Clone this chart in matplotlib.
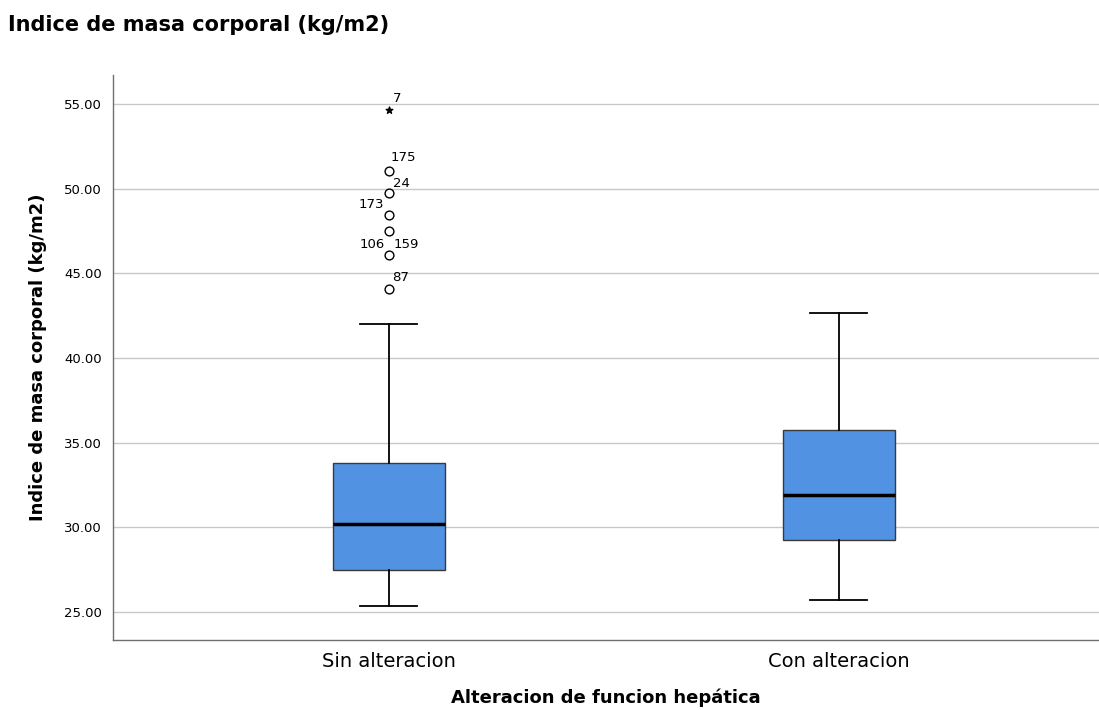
import matplotlib
matplotlib.use("Agg")
import matplotlib.pyplot as plt

# Box statistics
groups = ["Sin alteracion", "Con alteracion"]
q1 = [27.5, 29.25]
medians = [30.2, 31.9]
q3 = [33.8, 35.74]
whis_lo = [25.35, 25.7]
whis_hi = [42.0, 42.65]

# Outliers of the first group (case numbers as labels)
out_vals = [51.04, 49.74, 48.44, 47.5, 46.08, 44.07]
out_labels = ["175", "24", "173", "", "106 159", "87"]
extreme_vals = [54.65]
extreme_labels = ["7"]

box_color = "#5292E3"

fig = plt.figure(figsize=(10.99, 7.10), dpi=100)
ax = fig.add_axes([0.1028, 0.0986, 0.8972, 0.7958])

stats = []
for i, g in enumerate(groups):
    stats.append(dict(label=g, q1=q1[i], med=medians[i], q3=q3[i],
                      whislo=whis_lo[i], whishi=whis_hi[i], fliers=[]))

ax.bxp(stats, positions=[1, 2], widths=0.249, patch_artist=True,
       showfliers=False, capwidths=0.127,
       boxprops=dict(facecolor=box_color, edgecolor="#3a3a3a", linewidth=1.0),
       medianprops=dict(color="black", linewidth=2.5),
       whiskerprops=dict(color="black", linewidth=1.3),
       capprops=dict(color="black", linewidth=1.3), zorder=3)

# outliers
ax.scatter([1] * len(out_vals), out_vals, s=40, facecolors="white",
           edgecolors="black", linewidths=1.0, zorder=4)
ax.scatter([1] * len(extreme_vals), extreme_vals, marker="*", s=25,
           color="black", zorder=4)

# case labels
lab_style = dict(fontsize=9.5, color="black", zorder=5)
ax.text(1.008, extreme_vals[0] + 0.3, extreme_labels[0], ha="left", va="bottom", **lab_style)
ax.text(1.003, out_vals[0] + 0.4, out_labels[0], ha="left", va="bottom", **lab_style)
ax.text(1.01, out_vals[1] + 0.15, out_labels[1], ha="left", va="bottom", **lab_style)
ax.text(0.99, out_vals[2] + 0.25, out_labels[2], ha="right", va="bottom", **lab_style)
ax.text(0.99, out_vals[4] + 0.25, out_labels[4].split()[0], ha="right", va="bottom", **lab_style)
ax.text(1.01, out_vals[4] + 0.25, out_labels[4].split()[1], ha="left", va="bottom", **lab_style)
ax.text(1.008, out_vals[5] + 0.3, out_labels[5], ha="left", va="bottom", **lab_style)

ax.set_xlim(0.387, 2.578)
ax.set_ylim(23.34, 56.71)
ax.set_yticks([25, 30, 35, 40, 45, 50, 55])
ax.set_yticklabels(["%.2f" % v for v in [25, 30, 35, 40, 45, 50, 55]], fontsize=9.5)
ax.set_xticks([1, 2])
ax.set_xticklabels(groups, fontsize=14)
ax.tick_params(axis="y", length=0, pad=8)
ax.tick_params(axis="x", length=0, pad=9)
ax.yaxis.grid(True, color="#c8c8c8", linewidth=1.0, zorder=0)
ax.set_axisbelow(True)

for s in ["top", "right"]:
    ax.spines[s].set_visible(False)
for s in ["left", "bottom"]:
    ax.spines[s].set_color("#707070")
    ax.spines[s].set_linewidth(1.0)

ax.set_ylabel("Indice de masa corporal (kg/m2)", fontsize=13, fontweight="bold", labelpad=12)
ax.set_xlabel("Alteracion de funcion hepática", fontsize=13, fontweight="bold", labelpad=12)
fig.text(0.007, 0.965, "Indice de masa corporal (kg/m2)", fontsize=15,
         fontweight="bold", ha="left", va="center")

fig.savefig("out.png", dpi=100)
